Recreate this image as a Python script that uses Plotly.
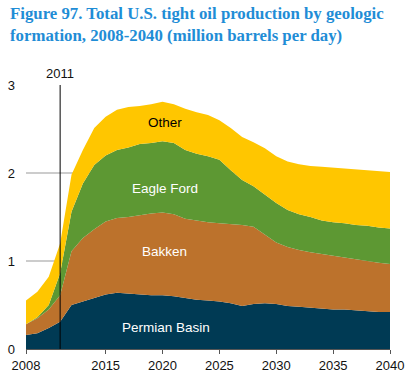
import plotly.graph_objects as go

years = list(range(2008, 2041))
permian = [0.16, 0.18, 0.24, 0.31, 0.50, 0.54, 0.58, 0.62, 0.64, 0.63, 0.62, 0.61, 0.61, 0.60, 0.58, 0.56, 0.55,
           0.54, 0.52, 0.49, 0.51, 0.52, 0.51, 0.49, 0.48, 0.47, 0.46, 0.45, 0.45, 0.44, 0.43, 0.42, 0.42]
bakken = [0.12, 0.17, 0.21, 0.30, 0.61, 0.72, 0.78, 0.83, 0.85, 0.87, 0.90, 0.93, 0.94, 0.93, 0.90, 0.90, 0.89,
          0.89, 0.90, 0.92, 0.88, 0.78, 0.70, 0.67, 0.645, 0.63, 0.62, 0.605, 0.585, 0.58, 0.57, 0.56, 0.545]
eagle_ford = [0.0, 0.01, 0.05, 0.25, 0.45, 0.62, 0.73, 0.75, 0.77, 0.79, 0.81, 0.80, 0.81, 0.81, 0.78, 0.76, 0.75,
              0.72, 0.61, 0.51, 0.46, 0.45, 0.45, 0.42, 0.405, 0.40, 0.38, 0.385, 0.395, 0.39, 0.40, 0.40, 0.405]
other = [0.27, 0.29, 0.32, 0.34, 0.42, 0.38, 0.42, 0.44, 0.46, 0.46, 0.43, 0.44, 0.45, 0.44, 0.47, 0.47, 0.47,
         0.45, 0.48, 0.49, 0.50, 0.53, 0.53, 0.55, 0.57, 0.58, 0.61, 0.62, 0.62, 0.63, 0.63, 0.64, 0.64]

series_names = ["Permian Basin", "Bakken", "Eagle Ford", "Other"]
series_values = [permian, bakken, eagle_ford, other]
series_colors = ["#003A54", "#BC722C", "#5D9833", "#FFC600"]
label_colors = ["white", "white", "white", "black"]
label_pos = [(2020.3, 0.24), (2020.2, 1.11), (2020.2, 1.82), (2020.2, 2.57)]

x_tickvals = [2008, 2015, 2020, 2025, 2030, 2035, 2040]
y_tickvals = [0, 1, 2, 3]
marker_year = 2011

W, H = 411, 381
ML, MR, MT, MB = 26, 21, 85, 32
PW, PH = W - ML - MR, H - MT - MB

fig = go.Figure()
for name, vals, col in zip(series_names, series_values, series_colors):
    fig.add_trace(go.Scatter(x=years, y=vals, name=name, stackgroup="one", mode="lines",
                             line=dict(width=0, color=col), fillcolor=col, hoverinfo="skip"))

for name, (lx, ly), lc in zip(series_names, label_pos, label_colors):
    fig.add_annotation(x=lx, y=ly, text=name, showarrow=False,
                       font=dict(family="Liberation Sans, Arial", size=13.5, color=lc))

fig.add_shape(type="line", x0=marker_year, x1=marker_year, y0=0, y1=3, xref="x", yref="y",
              line=dict(color="black", width=1), layer="above")
fig.add_annotation(x=marker_year, y=3, text=str(marker_year), showarrow=False, yanchor="bottom", yshift=2,
                   font=dict(family="Liberation Sans, Arial", size=13, color="#111"))

fig.add_annotation(
    text="<b>Figure 97. Total U.S. tight oil production by geologic<br>formation, 2008-2040 (million barrels per day)</b>",
    xref="paper", yref="paper", x=(8 - ML) / PW, y=1 + (MT - 2) / PH, xanchor="left", yanchor="top",
    align="left", showarrow=False,
    font=dict(family="Liberation Serif, Times New Roman", size=16.8, color="#1F8DD6"))

fig.update_layout(
    width=W, height=H,
    margin=dict(l=ML, r=MR, t=MT, b=MB, autoexpand=False),
    paper_bgcolor="white", plot_bgcolor="white",
    showlegend=False,
    font=dict(family="Liberation Sans, Arial", size=13, color="#111"),
)
fig.update_xaxes(range=[2008, 2040], tickvals=x_tickvals, showgrid=False, zeroline=False,
                 showline=True, linecolor="#555", linewidth=1, ticks="outside", ticklen=4, tickcolor="#555",
                 tickfont=dict(size=13, color="#111"))
fig.update_yaxes(range=[0, 3], tickvals=y_tickvals, showgrid=True, gridcolor="#CCCCCC", gridwidth=2,
                 zeroline=False, showline=False, ticks="", ticklabelstandoff=10,
                 tickfont=dict(size=13, color="#111"))

fig.write_html("out.html", config={"displayModeBar": False},
               post_script="document.body.style.margin='0px';")
